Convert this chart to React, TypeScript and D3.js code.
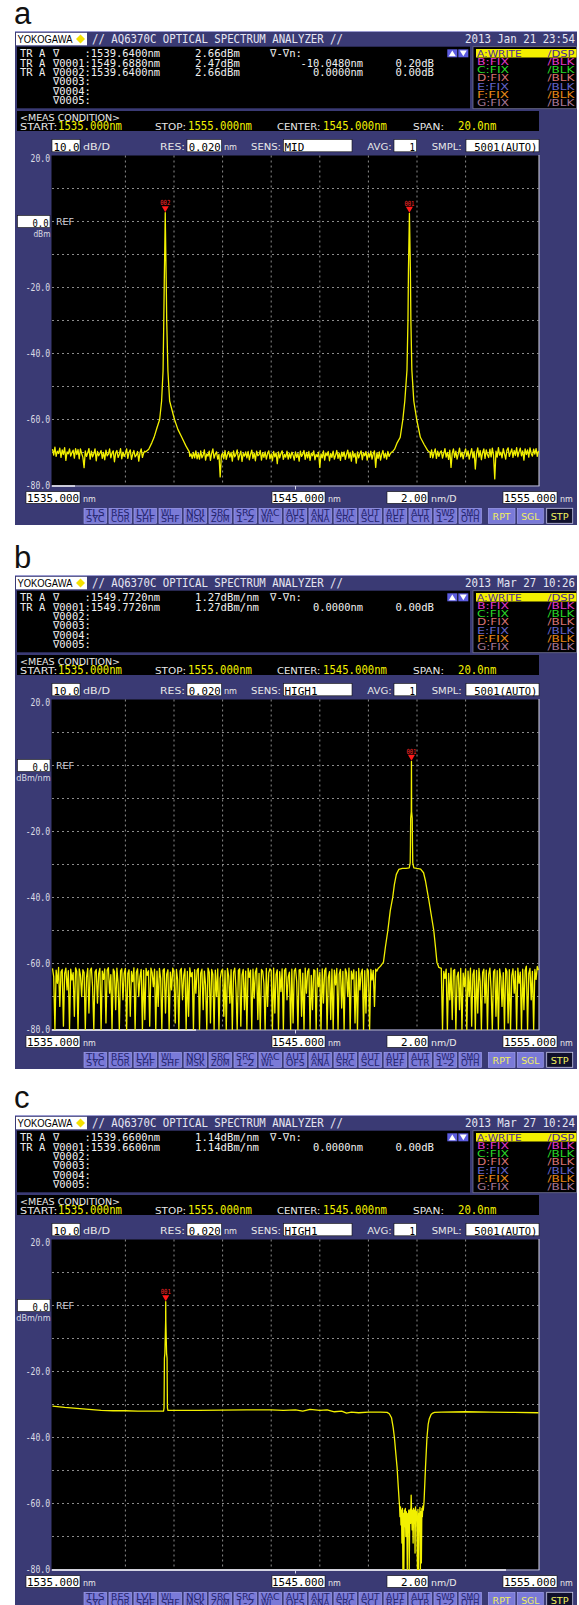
import React from "react";
import * as d3 from "d3";

// ---------------- axis data ----------------
const wavelengthRange = [1535, 1555];
const levelRange = [-80, 20];
const levelLabels = [20, -20, -40, -60, -80];

// ---------------- panel metadata ----------------
const panelLetters = ["a", "b", "c"];
const panelDates = ["2013 Jan 21 23:54", "2013 Mar 27 10:26", "2013 Mar 27 10:24"];
const panelSens = ["MID", "HIGH1", "HIGH1"];
const panelUnits = ["dBm", "dBm/nm", "dBm/nm"];
const measLabels = ["START:", "STOP:", "CENTER:", "SPAN:"];
const measValues = ["1535.000nm", "1555.000nm", "1545.000nm", "20.0nm"];
const axisBoxes = ["1535.000", "1545.000", "2.00", "1555.000"];
const axisUnits = ["nm", "nm", "nm/D", "nm"];

// info rows: [prefix, marker+wavelength, level, delta wavelength, delta level]
const infoRowsA = [
  ["TR A", "∇    :1539.6400nm", "2.66dBm", "", ""],
  ["TR A", "∇0001:1549.6880nm", "2.47dBm", "-10.0480nm", "0.20dB"],
  ["TR A", "∇0002:1539.6400nm", "2.66dBm", "0.0000nm", "0.00dB"],
  ["", "∇0003:", "", "", ""],
  ["", "∇0004:", "", "", ""],
  ["", "∇0005:", "", "", ""],
];
const infoRowsB = [
  ["TR A", "∇    :1549.7720nm", "1.27dBm/nm", "", ""],
  ["TR A", "∇0001:1549.7720nm", "1.27dBm/nm", "0.0000nm", "0.00dB"],
  ["", "∇0002:", "", "", ""],
  ["", "∇0003:", "", "", ""],
  ["", "∇0004:", "", "", ""],
  ["", "∇0005:", "", "", ""],
];
const infoRowsC = [
  ["TR A", "∇    :1539.6600nm", "1.14dBm/nm", "", ""],
  ["TR A", "∇0001:1539.6600nm", "1.14dBm/nm", "0.0000nm", "0.00dB"],
  ["", "∇0002:", "", "", ""],
  ["", "∇0003:", "", "", ""],
  ["", "∇0004:", "", "", ""],
  ["", "∇0005:", "", "", ""],
];

const legendNames = ["A:WRITE", "B:FIX", "C:FIX", "D:FIX", "E:FIX", "F:FIX", "G:FIX"];
const legendModes = ["/DSP", "/BLK", "/BLK", "/BLK", "/BLK", "/BLK", "/BLK"];
const legendColors = ["#4a2a90", "#e038c8", "#28d828", "#d87474", "#6464c8", "#e88818", "#a87898"];

const buttonLabels = [
  ["TLS", "SYC"], ["RES", "COR"], ["LVL", "SHF"], ["WL", "SHF"], ["NOI", "MSK"], ["SRC", "ZOM"],
  ["SRC", "1-2"], ["VAC", "WL"], ["AUT", "OFS"], ["AUT", "ANA"], ["AUT", "SRC"], ["AUT", "SCL"],
  ["AUT", "REF"], ["AUT", "CTR"], ["SWP", "1-2"], ["SMO", "OTH"],
];

const markersA = [
  { id: "002", wl: 1539.64, lvl: 2.66 },
  { id: "001", wl: 1549.688, lvl: 2.47 },
];
const markersB = [{ id: "001", wl: 1549.772, lvl: 1.27 }];
const markersC = [{ id: "001", wl: 1539.66, lvl: 1.14 }];

// ---------------- trace data: panel a ----------------
const NOISE_STEP_A = 0.05; // sample spacing of the floor readings, nm (from 1535.00)
const noiseA = [
  -69.0, -70.8, -68.4, -71.2, -69.6, -70.3, -68.7, -71.5, -69.2, -70.6, -68.5, -72.4, -69.8, -70.4, -68.9, -71.1, -70.0, -69.3, -71.7, -68.8,
  -70.6, -69.1, -71.9, -68.9, -70.3, -71.4, -74.6, -69.5, -71.2, -70.1, -68.8, -72.0, -69.6, -71.3, -70.4, -68.9, -72.5, -69.7, -71.0, -70.2,
  -69.4, -71.8, -70.0, -72.2, -69.3, -71.0, -70.5, -68.9, -71.6, -70.2, -69.5, -72.8, -70.1, -69.4, -71.5, -70.6, -68.8, -71.9, -69.9, -71.2,
  -70.3, -68.9, -71.8, -70.0, -69.2, -72.1, -70.5, -69.4, -71.3, -70.8, -69.7, -72.6, -70.1, -68.9, -71.5, -70.2, -69.6, -71.4, -70.0, -69.3,
  -70.5, -71.2, -69.8, -70.9, -71.4, -70.2, -71.0, -69.7, -70.8, -71.3, -70.5, -71.2, -69.8, -70.9, -71.4, -70.2, -71.0, -69.7, -70.8, -71.3,
  -70.1, -71.5, -69.9, -71.2, -70.4, -71.8, -70.0, -71.6, -69.5, -71.9, -70.1, -71.5, -69.9, -71.2, -70.4, -71.8, -70.0, -71.6, -69.5, -71.9,
  -70.3, -72.0, -69.5, -71.6, -70.8, -69.2, -72.3, -70.4, -71.1, -69.6, -72.4, -70.2, -68.9, -71.7, -70.5, -69.8, -72.0, -70.6, -77.4, -70.9,
  -70.2, -71.9, -69.4, -72.1, -70.6, -69.7, -71.4, -70.0, -72.6, -69.5, -71.3, -70.5, -69.2, -72.2, -70.8, -69.6, -72.7, -70.3, -71.1, -69.8,
  -71.6, -69.7, -72.2, -70.5, -69.3, -71.8, -70.2, -72.5, -69.6, -71.0, -70.7, -69.4, -72.3, -70.1, -71.5, -69.8, -72.0, -70.4, -69.5, -71.9,
  -70.4, -72.5, -69.7, -71.3, -70.1, -73.4, -69.8, -71.6, -70.3, -69.5, -72.1, -70.6, -71.4, -69.6, -72.0, -70.2, -71.7, -69.9, -70.8, -72.3,
  -69.8, -71.5, -70.3, -72.6, -69.6, -71.2, -70.5, -69.4, -72.1, -70.0, -71.6, -69.7, -72.4, -70.2, -71.0, -69.5, -72.2, -70.6, -71.3, -69.9,
  -74.5, -70.4, -71.6, -69.5, -72.3, -70.1, -71.0, -69.7, -72.5, -70.3, -71.5, -69.6, -72.0, -70.8, -69.4, -71.8, -70.2, -72.4, -69.9, -71.2,
  -69.8, -72.1, -70.5, -69.3, -71.7, -70.0, -72.6, -69.6, -71.4, -70.3, -73.2, -69.8, -71.6, -70.4, -69.5, -72.2, -70.1, -71.0, -69.7, -72.3,
  -70.2, -71.4, -69.6, -72.0, -70.4, -69.5, -74.5, -70.1, -71.8, -69.8, -72.3, -70.5, -69.4, -71.6, -70.2, -72.0, -69.7, -71.2, -70.4, -69.9,
  -70.2, -71.4, -69.9, -71.0, -70.5, -71.3, -70.0, -71.6, -69.8, -71.1, -70.2, -71.4, -69.9, -71.0, -70.5, -71.3, -70.0, -71.6, -69.8, -71.1,
  -70.3, -71.5, -69.6, -71.2, -70.1, -71.8, -69.4, -71.3, -70.2, -72.0, -70.3, -71.5, -69.2, -71.6, -70.1, -68.9, -71.8, -69.6, -71.2, -70.0,
  -69.5, -71.7, -70.3, -68.8, -71.4, -70.0, -72.1, -69.3, -74.5, -70.2, -68.9, -71.5, -69.6, -72.0, -70.4, -68.7, -71.3, -69.9, -71.9, -70.1,
  -68.9, -71.2, -69.5, -72.0, -70.3, -68.8, -71.6, -69.7, -75.0, -70.2, -68.6, -71.4, -69.4, -72.2, -70.0, -68.9, -71.8, -69.2, -70.7, -71.5,
  -69.0, -71.3, -68.7, -70.9, -78.0, -69.6, -71.4, -68.5, -70.8, -69.9, -71.6, -68.8, -70.4, -72.0, -69.3, -68.6, -71.2, -70.0, -68.9, -71.5,
  -69.4, -70.9, -68.5, -71.3, -69.8, -68.7, -71.0, -69.5, -72.3, -68.9, -70.6, -69.2, -71.4, -68.6, -70.3, -71.1, -69.0, -70.5, -68.8, -71.2,
  -69.5,
];
// peak profiles: [offset from marker wavelength (nm), level (dBm)]
const peakProfileA1 = [
  [-0.8, -69.8], [-0.68, -69.0], [-0.55, -67.0], [-0.46, -65.4], [-0.34, -62.5], [-0.23, -60.0],
  [-0.15, -54.4], [-0.09, -45.3], [-0.06, -30.0], [-0.04, -18.0], [-0.02, -8.4], [-0.01, -3.0],
  [0, 2.66], [0.01, -3.0], [0.02, -8.4], [0.04, -18.0], [0.06, -30.0], [0.11, -45.3],
  [0.18, -54.4], [0.38, -60.0], [0.52, -63.0], [0.68, -65.4], [0.85, -68.0], [0.99, -69.8],
];
const peakProfileA2 = [
  [-0.7, -69.8], [-0.61, -69.0], [-0.5, -67.0], [-0.38, -65.4], [-0.27, -60.0], [-0.19, -54.4],
  [-0.1, -45.0], [-0.06, -30.0], [-0.04, -15.0], [-0.02, -6.0], [0, 2.47], [0.02, -6.0],
  [0.04, -15.0], [0.06, -30.0], [0.1, -45.0], [0.18, -54.4], [0.3, -60.0], [0.45, -65.4],
  [0.6, -67.5], [0.76, -69.5], [0.85, -70.0],
];

// ---------------- trace data: panel b ----------------
const NOISE_STEP_B = 0.05;
const noiseBLeftStart = 1535.0;
const noiseBLeft = [
  -61.5, -64, -80, -62, -66, -61.2, -73, -62.5, -61.8, -79, -63, -61.4, -68, -62.2, -80, -61.7, -65, -62.8, -76, -61.3,
  -62.4, -80, -61.6, -63.5, -70, -61.9, -62.7, -80, -64.2, -61.5, -75, -62.1, -61.4, -67, -80, -62.6, -61.8, -72, -63.1, -61.5,
  -80, -62.3, -64.8, -61.6, -78, -62.0, -61.3, -69, -63.4, -80, -61.7, -62.5, -74, -61.4, -66, -80, -62.2, -61.6, -71, -62.9,
  -61.5, -80, -63.0, -61.9, -76, -62.4, -65.5, -61.3, -80, -62.7, -61.6, -70, -64, -61.8, -80, -62.1, -77, -61.5, -63.6, -62.2,
  -79, -61.4, -62.8, -67, -61.7, -80, -62.3, -73, -61.5, -64.5, -80, -62.0, -61.6, -75, -63.2, -61.9, -80, -62.6, -68, -61.4,
  -62.5, -78, -61.8, -65, -80, -62.2, -61.5, -71, -63.7, -61.6, -80, -62.4, -76, -61.3, -64, -62.7, -80, -61.9, -69, -62.1,
  -61.5, -80, -62.9, -61.7, -74, -62.3, -66.5, -80, -61.4, -62.6, -78, -61.8, -63.3, -80, -62.0, -70, -61.6, -80, -64.6, -62.4,
  -61.7, -76, -62.2, -80, -61.5, -63.8, -72, -61.9, -80, -62.7, -61.4, -67.5, -80, -62.1, -61.6, -79, -63.5, -61.8, -74, -62.3,
  -80, -61.5, -64.2, -62.0, -80, -61.7, -70.5, -62.6, -61.4, -77, -63.0, -80, -61.8, -62.4, -66, -80, -61.5, -73, -62.8, -61.6,
  -62.2, -80, -61.4, -75, -63.4, -61.9, -80, -62.5, -68.5, -61.6, -80, -62.1, -61.5, -71, -64.1, -62.6, -80, -61.7, -78, -62.3,
  -61.5, -65.5, -80, -62.0, -61.8, -76, -62.9, -80, -61.4, -69, -62.4, -61.6, -80, -63.6, -74, -61.9, -62.2, -80, -61.5, -67,
  -62.7, -80, -61.6, -72, -62.1, -61.4, -80, -64.3, -62.5, -77, -61.7, -80, -62.0, -66.5, -61.5, -80, -63.2, -61.8, -73.5, -62.4,
  -80, -61.6, -62.8, -70, -61.4, -80, -62.3, -64.7, -61.9, -78, -62.5, -80, -61.5, -68, -63.0, -61.7, -80, -62.2, -75, -61.6,
  -62.4, -80, -61.8, -65, -62.1, -73, -61.7, -62.3, -61.5,
];
const filterB = [
  [1548.5, -60.8], [1548.62, -59.6], [1548.7, -55.0], [1548.8, -50.0], [1548.9, -44.0],
  [1549.0, -40.0], [1549.07, -36.0], [1549.15, -33.0], [1549.25, -31.5], [1549.4, -31.2],
  [1549.55, -31.2], [1549.68, -31.0], [1549.72, -29.5], [1549.73, -24.0], [1549.74, -16.0],
  [1549.765, -14.0], [1549.772, 1.27], [1549.779, -14.0], [1549.804, -16.0], [1549.814, -24.0],
  [1549.825, -29.5], [1549.87, -31.0], [1550.0, -31.2], [1550.15, -31.4], [1550.27, -32.5],
  [1550.35, -35.0], [1550.42, -38.0], [1550.47, -40.0], [1550.58, -45.0], [1550.69, -50.0],
  [1550.76, -55.0], [1550.82, -59.6], [1550.9, -61.2],
];
const noiseBRightStart = 1551.0;
const noiseBRight = [
  -61.5, -80, -62.4, -64.5, -61.7, -80, -63.0, -71, -61.4, -77, -62.2, -61.8, -80, -64.0, -62.6, -74, -61.5, -80, -62.9, -67,
  -61.6, -80, -62.3, -70, -61.4, -79, -63.4, -61.9, -80, -62.1, -75, -61.5, -65.5, -80, -62.7, -61.7, -72, -62.0, -80, -63.3,
  -61.4, -68, -80, -62.5, -61.8, -76, -62.2, -80, -61.6, -64.2, -73, -62.8, -80, -61.5, -62.4, -78, -61.9, -80, -63.7, -61.6,
  -69, -62.3, -80, -61.4, -66, -62.6, -80, -61.7, -74, -62.1, -60.8, -80, -63.1, -61.5, -71, -62.4, -80, -61.8, -64.8, -60.9,
  -62.0,
];

// ---------------- trace data: panel c ----------------
const traceCLeft = [
  [1535.0, -30.5], [1535.5, -30.9], [1536.0, -31.2], [1536.5, -31.5], [1537.0, -31.8],
  [1537.5, -31.9], [1538.0, -31.9], [1538.5, -32.0], [1539.0, -32.0], [1539.5, -32.0],
  [1539.57, -32.0], [1539.59, -31.0], [1539.6, -22.0], [1539.605, -16.0], [1539.625, -14.5],
  [1539.655, -5.0], [1539.66, 1.14], [1539.665, -5.0], [1539.695, -14.5], [1539.715, -16.0],
  [1539.72, -22.0], [1539.73, -31.0], [1539.75, -31.8], [1540.0, -31.8], [1541.0, -31.8],
  [1542.0, -31.7], [1543.0, -31.6], [1544.0, -31.6], [1544.5, -31.8], [1545.0, -31.6],
  [1545.3, -32.0], [1545.6, -31.5], [1546.0, -31.8], [1546.3, -31.6], [1546.6, -32.2],
  [1546.9, -32.0], [1547.1, -32.6], [1547.3, -32.3], [1547.6, -32.5], [1548.0, -32.3],
  [1548.5, -32.3], [1548.77, -32.4], [1548.86, -32.8], [1548.95, -34.0], [1549.02, -37.0],
  [1549.07, -40.0], [1549.13, -45.0], [1549.18, -49.0], [1549.23, -55.0], [1549.27, -59.6],
];
const dipNoiseCStart = 1549.28;
const DIP_STEP_C = 0.02;
const dipNoiseC = [
  -60.5, -64.0, -61.0, -66.5, -62.0, -72.0, -61.5, -80.0, -63.0, -80.0,
  -62.0, -67.0, -61.5, -70.0, -62.5, -65.0, -80.0, -63.0, -68.0, -62.0,
  -80.0, -64.0, -61.8, -66.0, -57.5, -63.0, -68.0, -62.0, -72.0, -61.5,
  -66.0, -62.0, -75.0, -61.0, -65.0, -62.5, -69.0, -80.0, -61.8, -80.0,
  -63.0, -66.5, -61.2, -80.0, -62.5, -78.0, -61.5, -64.0, -60.8, -62.0,
];
const traceCRight = [
  [1550.29, -59.4], [1550.35, -49.0], [1550.41, -40.0], [1550.46, -36.0], [1550.5, -34.5],
  [1550.58, -33.0], [1550.65, -32.6], [1550.72, -32.4], [1551.0, -32.3], [1552.0, -32.2],
  [1553.0, -32.3], [1554.0, -32.4], [1555.0, -32.5],
];

// ---------------- trace assembly ----------------
type Pt = [number, number];
function traceA(): Pt[] {
  const peaks = [
    { c: markersA[0].wl, p: peakProfileA1 },
    { c: markersA[1].wl, p: peakProfileA2 },
  ];
  const ranges = peaks.map((k) => [k.c + k.p[0][0], k.c + k.p[k.p.length - 1][0]]);
  const floor: Pt[] = noiseA
    .map((v, i) => [wavelengthRange[0] + i * NOISE_STEP_A, v] as Pt)
    .filter(([w]) => !ranges.some(([a, b]) => w >= a && w <= b));
  const pk: Pt[] = peaks.flatMap((k) => k.p.map(([dx, v]) => [k.c + dx, v] as Pt));
  return [...floor, ...pk].sort((p, q) => p[0] - q[0]);
}
function traceB(): Pt[] {
  const l = noiseBLeft.map((v, i) => [noiseBLeftStart + i * NOISE_STEP_B, v] as Pt);
  const r = noiseBRight.map((v, i) => [noiseBRightStart + i * NOISE_STEP_B, v] as Pt);
  return [...l, ...(filterB as Pt[]), ...r];
}
function traceC(): Pt[] {
  const d = dipNoiseC.map((v, i) => [dipNoiseCStart + i * DIP_STEP_C, v] as Pt);
  return [...(traceCLeft as Pt[]), ...d, ...(traceCRight as Pt[])];
}

// ---------------- style ----------------
const MONO = "'DejaVu Sans Mono', 'Liberation Mono', monospace";
const SANS = "'DejaVu Sans', 'Liberation Sans', sans-serif";
const ARIAL = "'Liberation Sans', Arial, sans-serif";
const NAVY = "#3a3a74";
const BTN = "#7a7ad8";
const BTN_TEXT = "#24246c";
const LIGHT = "#dcdce6";
const YEL = "#f2f000";

function T(props: any) {
  const { x, y, s, size = 11, w, fill = "#fff", anchor = "start", font = MONO, weight } = props;
  let xx = x;
  let an = anchor;
  if (w) {
    if (anchor === "end") xx = x - w;
    if (anchor === "middle") xx = x - w / 2;
    an = "start";
  }
  const extra: any = w ? { textLength: w, lengthAdjust: "spacingAndGlyphs" } : {};
  return (
    <text x={xx} y={y} fontSize={size} fontFamily={font} fill={fill} textAnchor={an}
      fontWeight={weight} xmlSpace="preserve" style={{ whiteSpace: "pre" }} {...extra}>
      {s}
    </text>
  );
}

function WBox({ x, y, w, h }: any) {
  return <rect x={x} y={y} width={w} height={h} fill="#fff" stroke="#111" strokeWidth={0.6} />;
}

function Panel({ idx, top, data, markers, info, scrollEnd }: any) {
  const xs = d3.scaleLinear().domain(wavelengthRange).range([52.5, 538.5]);
  const ys = d3.scaleLinear().domain(levelRange).range([454.5, 124.5]);
  const line = d3.line<Pt>().x((d) => xs(d[0])).y((d) => ys(d[1]));
  const xTicks = xs.ticks(10).slice(1, -1);
  const yTicks = ys.ticks(10).slice(1, -1);
  const clipId = "clip" + idx;
  const cw = 6.3;
  const rowY = (i: number) => 26.3 + i * 9.33;
  return (
    <g transform={`translate(0,${top})`}>
      <T x={14} y={-7.5} s={panelLetters[idx]} size={31} font={ARIAL} fill="#111" />
      <rect x={15} y={0} width={562} height={494} fill={NAVY} />
      <line x1={15} x2={577} y1={0.5} y2={0.5} stroke="#9a9ad0" />
      {/* header */}
      <rect x={16} y={1.8} width={71} height={12.5} fill="#fff" />
      <T x={17.5} y={12.3} s="YOKOGAWA" size={11} w={55} font={ARIAL} fill="#000" />
      <polygon points="80.5,3.5 85,8 80.5,12.5 76,8" fill="#f4e000" />
      <T x={92} y={12.3} s="// AQ6370C OPTICAL SPECTRUM ANALYZER //" size={13} w={251} fill="#e6e6f2" />
      <T x={575} y={12.3} s={panelDates[idx]} size={13} w={110} anchor="end" fill="#e6e6f2" />
      {/* info box */}
      <rect x={17} y={15.7} width={453} height={61.6} fill="#000" />
      {info.map((r: string[], i: number) => (
        <g key={i}>
          {r[0] && <T x={20} y={rowY(i)} s={r[0]} w={r[0].length * cw} fill="#f0f0f0" />}
          <T x={53} y={rowY(i)} s={r[1]} w={r[1].length * cw} fill="#f0f0f0" />
          {r[2] && <T x={195} y={rowY(i)} s={r[2]} w={r[2].length * 6.4} fill="#f0f0f0" />}
          {r[3] && <T x={363} y={rowY(i)} s={r[3]} w={r[3].length * 6.25} anchor="end" fill="#f0f0f0" />}
          {r[4] && <T x={434} y={rowY(i)} s={r[4]} w={r[4].length * 6.4} anchor="end" fill="#f0f0f0" />}
        </g>
      ))}
      <T x={270} y={rowY(0)} s="∇-∇n:" w={32} fill="#f0f0f0" />
      <rect x={447.3} y={18.3} width={10} height={8} fill="#5c5ce0" />
      <polygon points="452.3,19.5 455.8,25.3 448.8,25.3" fill="#fff" />
      <rect x={458.3} y={18.3} width={10} height={8} fill="#5c5ce0" />
      <polygon points="463.3,25.3 466.8,19.5 459.8,19.5" fill="#fff" />
      {/* legend box */}
      <rect x={473} y={15.7} width={103.5} height={62} fill="#000" stroke="#707090" strokeWidth={0.8} />
      <rect x={476} y={18} width={100.5} height={8.5} fill="#f4f000" />
      {legendNames.map((n, i) => (
        <g key={n}>
          <T x={477} y={25.6 + i * 8.25} s={n} size={8.5} w={n.length * 6.4} font={SANS} fill={legendColors[i]} />
          <T x={574.5} y={25.6 + i * 8.25} s={legendModes[i]} size={8.5} w={27} anchor="end" font={SANS} fill={legendColors[i]} />
        </g>
      ))}
      {/* meas condition */}
      <rect x={17} y={80} width={522} height={20} fill="#000" />
      <T x={20} y={90} s="<MEAS CONDITION>" size={8} w={100} font={SANS} fill="#e8e8e8" />
      {[20, 155, 277, 413].map((mx, i) => (
        <T key={i} x={mx} y={99} s={measLabels[i]} size={8} w={measLabels[i].length * 6.2} font={SANS} fill="#e8e8e8" />
      ))}
      {[58, 188, 323, 458].map((mx, i) => (
        <T key={i} x={mx} y={99.3} s={measValues[i]} size={12} w={measValues[i].length * 6.4} fill={YEL} />
      ))}
      {/* settings row */}
      <WBox x={52} y={108.5} w={28} h={12.3} />
      <T x={79.5} y={119.8} s="10.0" w={26} anchor="end" fill="#000" />
      <T x={83} y={119.3} s="dB/D" size={8.5} w={27} font={SANS} fill="#e8e8e8" />
      <T x={160} y={119.3} s="RES:" size={8.5} w={25} font={SANS} fill="#e8e8e8" />
      <WBox x={187} y={108.5} w={34.5} h={12.3} />
      <T x={220.7} y={119.8} s="0.020" w={32} anchor="end" fill="#000" />
      <T x={224} y={119.3} s="nm" size={8.5} w={13} font={SANS} fill="#e8e8e8" />
      <T x={251} y={119.3} s="SENS:" size={8.5} w={30} font={SANS} fill="#e8e8e8" />
      <WBox x={283.5} y={108.5} w={68.5} h={12.3} />
      <T x={284.5} y={119.8} s={panelSens[idx]} w={panelSens[idx].length * 6.6} fill="#000" />
      <T x={367.3} y={119.3} s="AVG:" size={8.5} w={24.4} font={SANS} fill="#e8e8e8" />
      <WBox x={394} y={108.5} w={22.5} h={12.3} />
      <T x={415} y={119.8} s="1" w={5.5} anchor="end" fill="#000" />
      <T x={431.7} y={119.3} s="SMPL:" size={8.5} w={30} font={SANS} fill="#e8e8e8" />
      <WBox x={466} y={108.5} w={73} h={12.3} />
      <T x={537.3} y={119.8} s="5001(AUTO)" w={63} anchor="end" fill="#000" />
      {/* plot */}
      <clipPath id={clipId}>
        <rect x={51.5} y={124.5} width={487.5} height={330.5} />
      </clipPath>
      <rect x={51.5} y={124.5} width={487.5} height={330} fill="#000" />
      {xTicks.map((t) => (
        <line key={"v" + t} x1={xs(t)} x2={xs(t)} y1={124.5} y2={454.5} stroke="#8c8c8c" strokeWidth={1} strokeDasharray="2,3" />
      ))}
      {yTicks.map((t) => (
        <line key={"h" + t} x1={52} x2={538.5} y1={ys(t)} y2={ys(t)} stroke="#8c8c8c" strokeWidth={1} strokeDasharray="2,3" />
      ))}
      <line x1={539} x2={539} y1={124} y2={455} stroke="#d8d8ea" strokeWidth={1} />
      <line x1={51.5} x2={539.5} y1={455} y2={455} stroke="#b4b4c8" strokeWidth={1.2} />
      <line x1={52} x2={scrollEnd} y1={455} y2={455} stroke="#f4f4fa" strokeWidth={1.4} />
      <line x1={xs(1545)} x2={xs(1545)} y1={455} y2={458.5} stroke="#d8d8ea" />
      <T x={56} y={193.8} s="REF" size={8.5} w={18} font={SANS} fill="#d0d0d8" />
      <path d={line(data) || ""} fill="none" stroke={YEL} strokeWidth={1.3} strokeLinejoin="round" clipPath={`url(#${clipId})`} />
      {markers.map((m: any) => {
        const mx = xs(m.wl);
        const my = ys(m.lvl) - 0.5;
        return (
          <g key={m.id + m.wl}>
            <polygon points={`${mx},${my} ${mx - 3.5},${my - 6} ${mx + 3.5},${my - 6}`} fill="#ff1a1a" />
            <T x={mx} y={my - 7} s={m.id} size={7} w={10} anchor="middle" fill="#ff2a2a" />
          </g>
        );
      })}
      {/* y labels */}
      {levelLabels.map((v) => (
        <T key={v} x={50} y={Math.max(ys(v), 127) + 3.6} s={v.toFixed(1)} size={10} w={v.toFixed(1).length * 4.85} anchor="end" fill={LIGHT} />
      ))}
      <WBox x={17.5} y={184.5} w={32.5} h={12} />
      <T x={48.5} y={195.5} s="0.0" w={16} anchor="end" fill="#000" />
      <T x={50.5} y={205.7} s={panelUnits[idx]} size={8} w={panelUnits[idx].length * 5.7} anchor="end" font={SANS} fill={LIGHT} />
      {/* x boxes */}
      {[
        [26, 80],
        [272, 325],
        [387, 428],
        [503, 557],
      ].map(([a, b], i) => (
        <g key={i}>
          <WBox x={a} y={460.7} w={b - a} h={11.6} />
          <T x={b - 1} y={471.3} s={axisBoxes[i]} w={axisBoxes[i].length * 6.5} anchor="end" fill="#000" />
          <T x={b + 3} y={471} s={axisUnits[i]} size={8.5} w={axisUnits[i].length * 6.4} font={SANS} fill="#e8e8e8" />
        </g>
      ))}
      {/* buttons */}
      {buttonLabels.map((b, i) => {
        const bx = 84 + i * 25;
        return (
          <g key={i}>
            <rect x={bx} y={477.3} width={22.5} height={15} fill={BTN} stroke="#a6a6f2" strokeWidth={0.6} />
            <T x={bx + 2} y={484.6} s={b[0]} size={8.5} w={b[0].length * 6.2} font={SANS} fill={BTN_TEXT} />
            <T x={bx + 2} y={491.4} s={b[1]} size={8.5} w={b[1].length * 6.2} font={SANS} fill={BTN_TEXT} />
          </g>
        );
      })}
      <rect x={488.3} y={477.3} width={26.7} height={15} fill={BTN} stroke="#a6a6f2" strokeWidth={0.6} />
      <T x={501.6} y={488.5} s="RPT" size={9} w={18} anchor="middle" font={SANS} fill="#f2f060" />
      <rect x={517.3} y={477.3} width={26} height={15} fill={BTN} stroke="#a6a6f2" strokeWidth={0.6} />
      <T x={530.3} y={488.5} s="SGL" size={9} w={18} anchor="middle" font={SANS} fill="#f2f060" />
      <rect x={546.7} y={477.3} width={26} height={15} fill="#10102c" stroke="#c8c8e8" strokeWidth={0.8} />
      <T x={559.7} y={488.5} s="STP" size={9} w={18} anchor="middle" font={SANS} fill="#f2f060" />
    </g>
  );
}

export default function App() {
  const a = traceA();
  const b = traceB();
  const c = traceC();
  return (
    <div style={{ position: "absolute", left: 0, top: 0 }}>
      <svg width={579} height={1605} style={{ display: "block", background: "#fff" }}>
        <Panel idx={0} top={31} data={a} markers={markersA} info={infoRowsA} scrollEnd={75} />
        <Panel idx={1} top={575} data={b} markers={markersB} info={infoRowsB} scrollEnd={196} />
        <Panel idx={2} top={1115} data={c} markers={markersC} info={infoRowsC} scrollEnd={506} />
      </svg>
    </div>
  );
}
